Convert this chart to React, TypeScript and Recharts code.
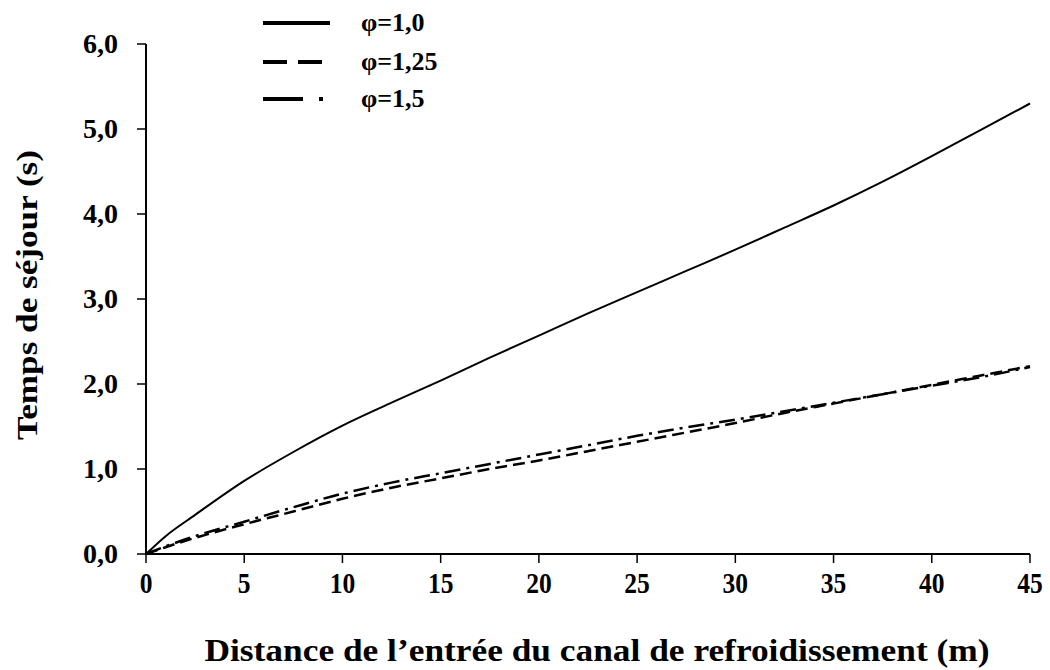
import React from "react";
import { LineChart, Line, XAxis, YAxis, Label } from "recharts";

const distance = [0, 1, 2.5, 5, 7.5, 10, 12.5, 15, 17.5, 20, 22.5, 25, 27.5, 30, 32.5, 35, 37.5, 40, 42.5, 45];
const phi10 = [0, 0.21, 0.46, 0.86, 1.2, 1.51, 1.78, 2.04, 2.31, 2.57, 2.83, 3.08, 3.33, 3.58, 3.84, 4.1, 4.38, 4.68, 4.99, 5.3];
const phi125 = [0, 0.08, 0.19, 0.35, 0.5, 0.65, 0.78, 0.89, 1.0, 1.1, 1.21, 1.32, 1.43, 1.54, 1.66, 1.77, 1.88, 1.99, 2.1, 2.21];
const phi15 = [0, 0.09, 0.21, 0.38, 0.55, 0.71, 0.84, 0.95, 1.06, 1.17, 1.28, 1.39, 1.49, 1.58, 1.68, 1.78, 1.88, 1.98, 2.08, 2.2];

const xTicks = [0, 5, 10, 15, 20, 25, 30, 35, 40, 45];
const yTicks = [0, 1, 2, 3, 4, 5, 6];

const seriesNames = ["φ=1,0", "φ=1,25", "φ=1,5"];

const data = distance.map((d, i) => ({
  d,
  a: phi10[i],
  b: phi125[i],
  c: phi15[i],
}));

const FONT = "'Liberation Serif', 'Times New Roman', serif";

function XTick({ x, y, payload }: any) {
  return (
    <text
      transform={`translate(${x},${y + 30}) scale(0.85,1)`}
      textAnchor="middle"
      fontFamily={FONT}
      fontWeight="bold"
      fontSize={30}
      fill="#000"
    >
      {payload.value}
    </text>
  );
}

function YTick({ x, y, payload }: any) {
  return (
    <text
      x={x}
      y={y + 9}
      textAnchor="end"
      fontFamily={FONT}
      fontWeight="bold"
      fontSize={28}
      fill="#000"
    >
      {Number(payload.value).toFixed(1).replace(".", ",")}
    </text>
  );
}

function XTitle({ viewBox }: any) {
  const cx = viewBox.x + viewBox.width / 2 + 9;
  return (
    <text
      x={cx}
      y={661}
      textAnchor="middle"
      fontFamily={FONT}
      fontWeight="bold"
      fontSize={31}
      textLength={785}
      lengthAdjust="spacingAndGlyphs"
      fill="#000"
    >
      Distance de l’entrée du canal de refroidissement (m)
    </text>
  );
}

function YTitle({ viewBox }: any) {
  const cy = viewBox.y + viewBox.height / 2 - 4;
  return (
    <text
      transform={`translate(37,${cy}) rotate(-90)`}
      textAnchor="middle"
      fontFamily={FONT}
      fontWeight="bold"
      fontSize={29}
      textLength={290}
      lengthAdjust="spacingAndGlyphs"
      fill="#000"
    >
      Temps de séjour (s)
    </text>
  );
}

function LegendBox() {
  const rows = [
    { y: 23, dash: undefined },
    { y: 62, dash: "24 11" },
    { y: 99, dash: "40 16 4 30" },
  ];
  return (
    <svg width={200} height={120} style={{ position: "absolute", left: 260, top: 0 }}>
      {rows.map((r, i) => (
        <g key={i}>
          <line x1={3} x2={70} y1={r.y} y2={r.y} stroke="#000" strokeWidth={4} strokeDasharray={r.dash} />
          <text x={101} y={r.y + 8} fontFamily={FONT} fontWeight="bold" fontSize={26} fill="#000">
            {seriesNames[i]}
          </text>
        </g>
      ))}
    </svg>
  );
}

export default function App() {
  return (
    <div style={{ position: "absolute", left: 0, top: 0, width: 1050, height: 670, background: "#fff" }}>
      <LineChart width={1050} height={670} data={data} margin={{ top: 44, right: 20, bottom: 0, left: 0 }}>
        <XAxis
          dataKey="d"
          type="number"
          domain={[0, 45]}
          ticks={xTicks}
          interval={0}
          height={116}
          tickSize={9}
          tickMargin={0}
          tick={<XTick />}
          axisLine={{ stroke: "#000", strokeWidth: 2 }}
          tickLine={{ stroke: "#000", strokeWidth: 1.5 }}
        >
          <Label content={<XTitle />} />
        </XAxis>
        <YAxis
          type="number"
          domain={[0, 6]}
          ticks={yTicks}
          interval={0}
          width={146}
          tickSize={9}
          tickMargin={19}
          tick={<YTick />}
          axisLine={{ stroke: "#000", strokeWidth: 2 }}
          tickLine={{ stroke: "#000", strokeWidth: 1.5 }}
        >
          <Label content={<YTitle />} />
        </YAxis>
        <Line
          type="monotone"
          dataKey="a"
          name={seriesNames[0]}
          stroke="#000"
          strokeWidth={2}
          dot={false}
          isAnimationActive={false}
        />
        <Line
          type="monotone"
          dataKey="b"
          name={seriesNames[1]}
          stroke="#000"
          strokeWidth={2.5}
          strokeDasharray="12 6"
          dot={false}
          isAnimationActive={false}
        />
        <Line
          type="monotone"
          dataKey="c"
          name={seriesNames[2]}
          stroke="#000"
          strokeWidth={2.5}
          strokeDasharray="16 6 3 6"
          dot={false}
          isAnimationActive={false}
        />
      </LineChart>
      <LegendBox />
    </div>
  );
}
